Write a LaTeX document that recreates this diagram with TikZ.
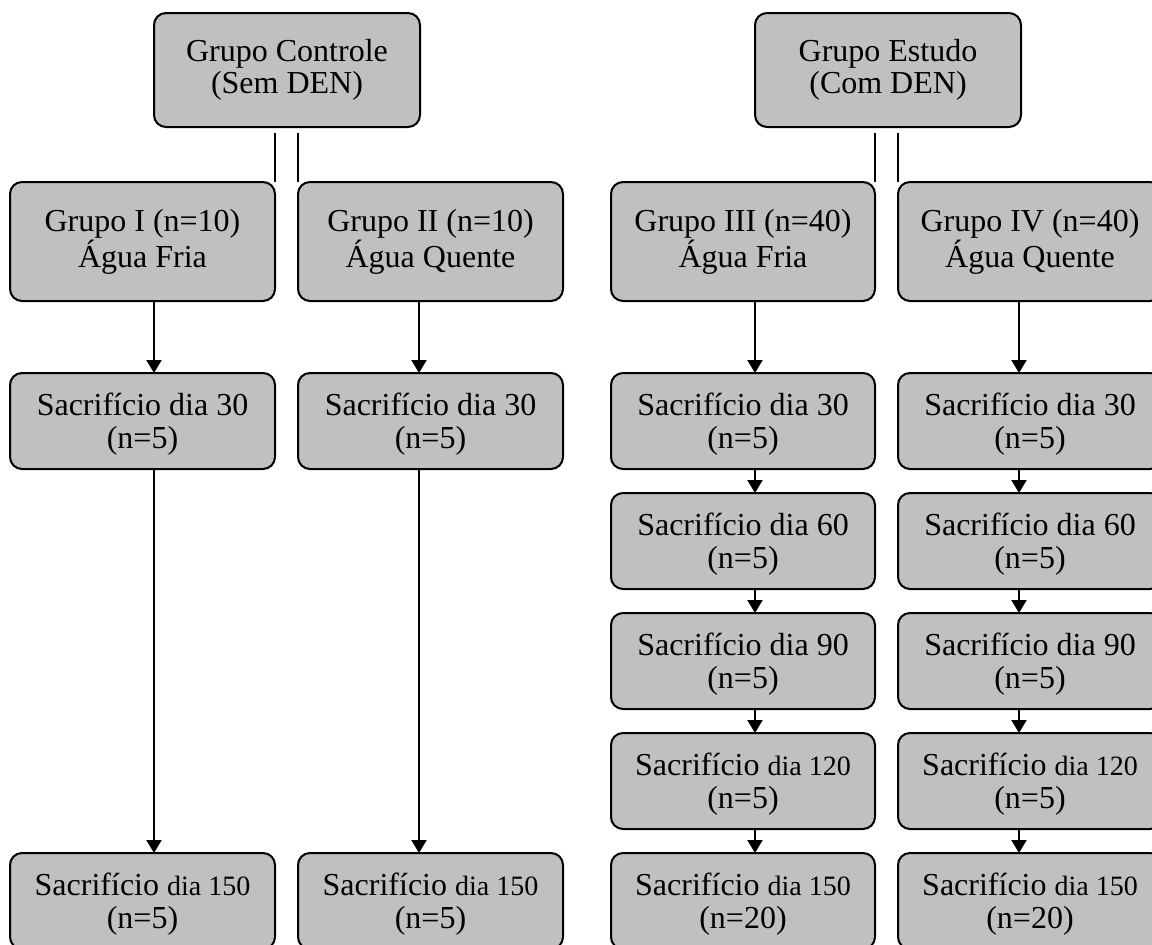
\documentclass[tikz,border=0pt]{standalone}
\usepackage{fontspec}
\setmainfont{Liberation Serif}
\usetikzlibrary{arrows.meta}
\definecolor{cinza}{RGB}{192,192,192}
\tikzset{
  caixa/.style={draw, line width=1pt, rounded corners=6pt, fill=cinza, align=center,
    inner sep=0pt, outer sep=0pt, minimum width=132.5pt, minimum height=48pt,
    font=\fontsize{16}{16}\selectfont},
  sacr/.style={caixa, font=\fontsize{16}{16.5}\selectfont, text depth=0pt},
  seta/.style={line width=1pt, -{Triangle[width=7.5pt,length=6.5pt]}},
  linha/.style={line width=1pt},
}
\newcommand{\menor}{\fontsize{14}{16}\selectfont}
\begin{document}
\begin{tikzpicture}[x=0.5pt, y=-0.5pt]
\useasboundingbox (0,0) rectangle (1152,944);
\clip (0,0) rectangle (1152,944);
% grupos principais
\node[caixa, minimum width=133pt, minimum height=57pt] (controle) at (287,70) {Grupo Controle\\(Sem DEN)};
\node[caixa, minimum width=133pt, minimum height=57pt] (estudo) at (888,70) {Grupo Estudo\\(Com DEN)};
% subgrupos
\node[caixa, minimum height=59.5pt] (g1) at (142.5,241.5) {Grupo I (n=10)\\Água Fria};
\node[caixa, minimum height=59.5pt] (g2) at (430.5,241.5) {Grupo II (n=10)\\Água Quente};
\node[caixa, minimum width=132pt, minimum height=59.5pt] (g3) at (743,241.5) {Grupo III (n=40)\\Água Fria};
\node[caixa, minimum width=132pt, minimum height=59.5pt] (g4) at (1030,241.5) {Grupo IV (n=40)\\Água Quente};
\draw[linha] ([yshift=-3pt]controle.south -| g1.east) -- (g1.north east);
\draw[linha] ([yshift=-3pt]controle.south -| g2.west) -- (g2.north west);
\draw[linha] ([yshift=-3pt]estudo.south -| g3.east) -- (g3.north east);
\draw[linha] ([yshift=-3pt]estudo.south -| g4.west) -- (g4.north west);
% grupo I e II
\node[sacr] (s1a) at (142.5,421) {Sacrifício dia 30\\(n=5)};
\node[sacr] (s1b) at (142.5,901) {Sacrifício {\menor dia 150}\\(n=5)};
\node[sacr] (s2a) at (430.5,421) {Sacrifício dia 30\\(n=5)};
\node[sacr] (s2b) at (430.5,901) {Sacrifício {\menor dia 150}\\(n=5)};
\draw[seta] ([xshift=5.75pt]g1.south) -- ([xshift=5.75pt]s1a.north);
\draw[seta] ([xshift=5.75pt]s1a.south) -- ([xshift=5.75pt]s1b.north);
\draw[seta] ([xshift=-5.75pt]g2.south) -- ([xshift=-5.75pt]s2a.north);
\draw[seta] ([xshift=-5.75pt]s2a.south) -- ([xshift=-5.75pt]s2b.north);
% grupo III
\node[sacr, minimum width=132pt] (s3a) at (743,421) {Sacrifício dia 30\\(n=5)};
\node[sacr, minimum width=132pt] (s3b) at (743,541) {Sacrifício dia 60\\(n=5)};
\node[sacr, minimum width=132pt] (s3c) at (743,661) {Sacrifício dia 90\\(n=5)};
\node[sacr, minimum width=132pt] (s3d) at (743,781) {Sacrifício {\menor dia 120}\\(n=5)};
\node[sacr, minimum width=132pt] (s3e) at (743,901) {Sacrifício {\menor dia 150}\\(n=20)};
\draw[seta] ([xshift=6pt]g3.south) -- ([xshift=6pt]s3a.north);
\draw[seta] ([xshift=6pt]s3a.south) -- ([xshift=6pt]s3b.north);
\draw[seta] ([xshift=6pt]s3b.south) -- ([xshift=6pt]s3c.north);
\draw[seta] ([xshift=6pt]s3c.south) -- ([xshift=6pt]s3d.north);
\draw[seta] ([xshift=6pt]s3d.south) -- ([xshift=6pt]s3e.north);
% grupo IV
\node[sacr, minimum width=132pt] (s4a) at (1030,421) {Sacrifício dia 30\\(n=5)};
\node[sacr, minimum width=132pt] (s4b) at (1030,541) {Sacrifício dia 60\\(n=5)};
\node[sacr, minimum width=132pt] (s4c) at (1030,661) {Sacrifício dia 90\\(n=5)};
\node[sacr, minimum width=132pt] (s4d) at (1030,781) {Sacrifício {\menor dia 120}\\(n=5)};
\node[sacr, minimum width=132pt] (s4e) at (1030,901) {Sacrifício {\menor dia 150}\\(n=20)};
\draw[seta] ([xshift=-5.5pt]g4.south) -- ([xshift=-5.5pt]s4a.north);
\draw[seta] ([xshift=-5.5pt]s4a.south) -- ([xshift=-5.5pt]s4b.north);
\draw[seta] ([xshift=-5.5pt]s4b.south) -- ([xshift=-5.5pt]s4c.north);
\draw[seta] ([xshift=-5.5pt]s4c.south) -- ([xshift=-5.5pt]s4d.north);
\draw[seta] ([xshift=-5.5pt]s4d.south) -- ([xshift=-5.5pt]s4e.north);
\end{tikzpicture}
\end{document}
